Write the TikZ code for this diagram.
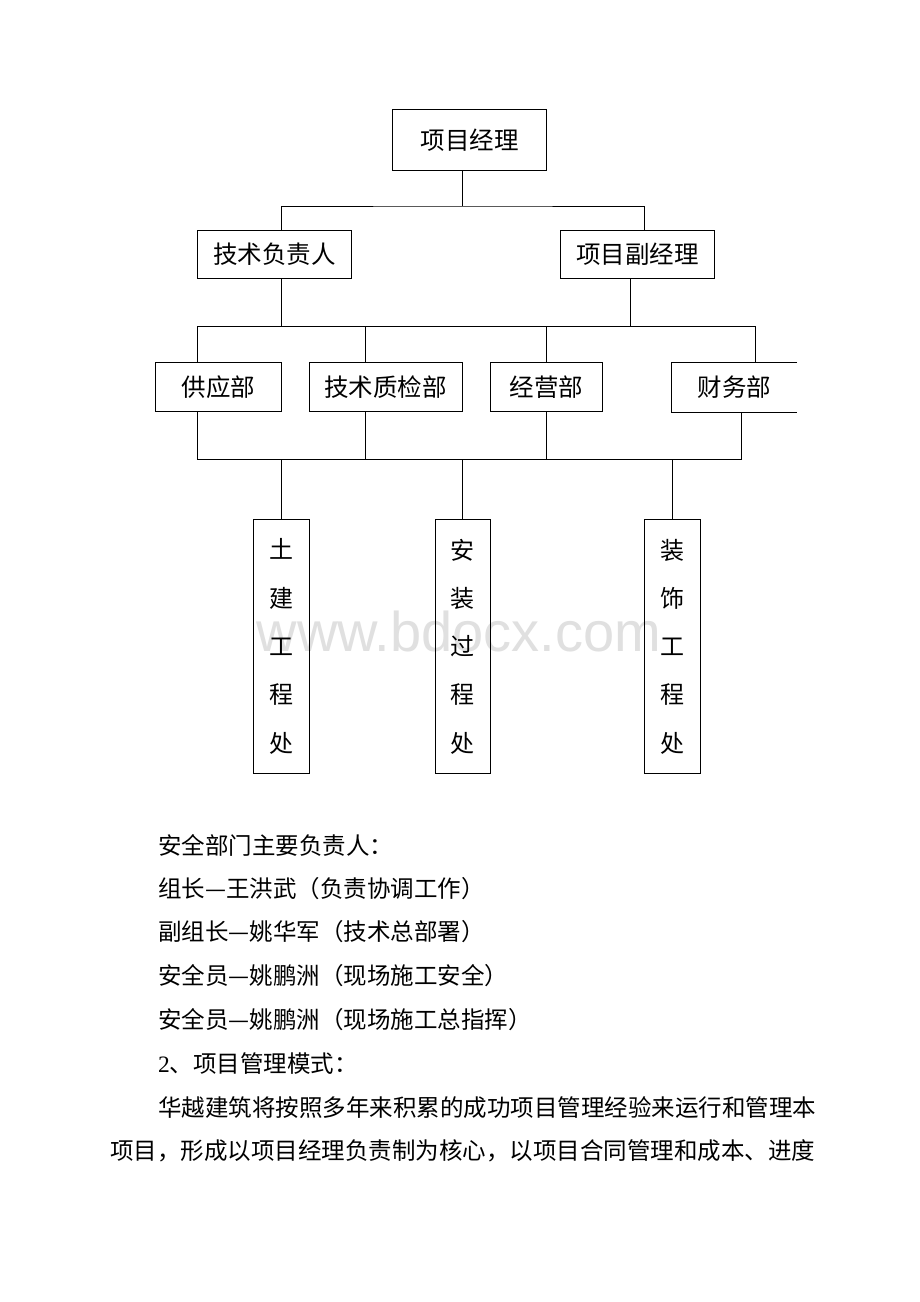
\documentclass[tikz,border=0pt]{standalone}
\usepackage{fontspec}
\setmainfont{Liberation Serif}
\newfontfamily\cjk{Noto Sans CJK SC}
\newfontfamily\wmfont{Liberation Sans}
\begin{document}
\begin{tikzpicture}[x=1pt,y=-1pt,
  box/.style={draw, line width=0.9pt, inner sep=0pt, font=\cjk\fontsize{24.5}{29}\selectfont},
  tall/.style={draw, line width=0.9pt, inner sep=0pt, minimum width=55.5pt, minimum height=253.6pt, align=center, font=\cjk\fontsize{24}{48.3}\selectfont},
  body/.style={anchor=west, inner sep=0pt, font=\cjk\fontsize{23.5}{28}\selectfont},
  link/.style={line width=0.9pt}]
\useasboundingbox (0,0) rectangle (920,1302);
\fill[white] (0,0) rectangle (920,1302);

% watermark
\node[text=black!12, font=\wmfont\fontsize{56}{60}\selectfont, anchor=base, inner sep=0pt] (wm) at (459,651.7) {www.bdocx.com};

% level 1
\node[box, minimum width=154pt, minimum height=60.7pt] (pm) at (469.7,139.7) {项目经理};
% level 2
\node[box, minimum width=154pt, minimum height=48pt] (tech) at (274.3,254.2) {技术负责人};
\node[box, minimum width=153.3pt, minimum height=48pt] (vice) at (637.3,254.2) {项目副经理};
% departments
\node[box, minimum width=126pt, minimum height=49pt] (supply) at (218.3,387.2) {供应部};
\node[box, minimum width=153pt, minimum height=49pt] (qc) at (385.5,387.2) {技术质检部};
\node[box, minimum width=111.6pt, minimum height=49pt] (biz) at (546.5,387.2) {经营部};
\node[box, draw=none, minimum width=124.4pt, minimum height=49pt] (fin) at (734.5,387.2) {财务部};
\draw[link] (fin.north east) -- (fin.north west) -- (fin.south west) -- (fin.south east);
% offices
\node[tall] (civil) at (281.2,646.5) {土\\建\\工\\程\\处};
\node[tall] (install) at (462.7,646.5) {安\\装\\过\\程\\处};
\node[tall] (deco) at (672.2,646.5) {装\\饰\\工\\程\\处};

% bus coordinates
\coordinate (b1) at (462.7,206);
\coordinate (b2r) at (755.7,326.7);
\coordinate (b3r) at (741.7,459.3);

% connectors level 1 -> 2
\draw[link] (pm.south -| b1) -- (b1);
\draw[link] ([xshift=7pt]tech.north) |- (b1) -| ([xshift=6.7pt]vice.north);
% level 2 -> departments
\draw[link] ([xshift=7pt]tech.south) -- ([xshift=7pt]tech.south |- b2r);
\draw[link] ([xshift=-7.3pt]vice.south) -- ([xshift=-7.3pt]vice.south |- b2r);
\draw[link] ([xshift=-21pt]supply.north) |- (b2r) -- (b2r |- fin.north);
\draw[link] ([xshift=-20.2pt]qc.north) -- ([xshift=-20.2pt]qc.north |- b2r);
\draw[link] (biz.north) -- (biz.north |- b2r);
% departments -> offices
\draw[link] ([xshift=-21pt]supply.south) |- (b3r) -- (b3r |- fin.south);
\draw[link] ([xshift=-20.2pt]qc.south) -- ([xshift=-20.2pt]qc.south |- b3r);
\draw[link] (biz.south) -- (biz.south |- b3r);
\draw[link] (civil.north) -- (civil.north |- b3r);
\draw[link] (install.north) -- (install.north |- b3r);
\draw[link] (deco.north) -- (deco.north |- b3r);

% text below
\node[body] (t1) at (158,845) {安全部门主要负责人：};
\node[body] (t2) at (158,888.5) {组长—王洪武（负责协调工作）};
\node[body] (t3) at (158,932) {副组长—姚华军（技术总部署）};
\node[body] (t4) at (158,976) {安全员—姚鹏洲（现场施工安全）};
\node[body] (t5) at (158,1020) {安全员—姚鹏洲（现场施工总指挥）};
\node[body] (t6) at (158,1064) {{\rmfamily 2}、项目管理模式：};
\node[body] (t7) at (158,1108) {华越建筑将按照多年来积累的成功项目管理经验来运行和管理本};
\node[body] (t8) at (110,1151) {项目，形成以项目经理负责制为核心，以项目合同管理和成本、进度};
\end{tikzpicture}
\end{document}
